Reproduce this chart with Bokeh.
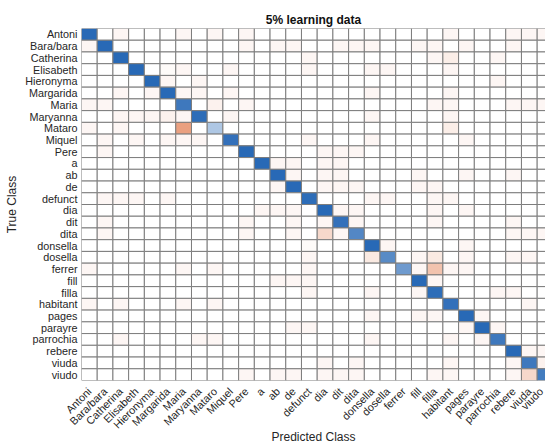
import math
import numpy as np
from bokeh.plotting import figure
from bokeh.models import Range1d, FixedTicker, ColumnDataSource
from bokeh.embed import file_html
from bokeh.resources import INLINE

classes = ["Antoni", "Bara/bara", "Catherina", "Elisabeth", "Hieronyma", "Margarida",
           "Maria", "Maryanna", "Mataro", "Miquel", "Pere", "a", "ab", "de", "defunct",
           "dia", "dit", "dita", "donsella", "dosella", "ferrer", "fill", "filla",
           "habitant", "pages", "parayre", "parrochia", "rebere", "viuda", "viudo"]

diag_counts = [40, 40, 40, 40, 40, 40, 36, 39, 15, 38, 40, 40, 40, 40, 39,
               40, 38, 32, 40, 31, 27, 40, 39, 38, 40, 40, 36, 40, 36, 35]

off_row = [0, 0, 0, 0, 0, 0, 0, 0,
           1, 1, 1, 1, 1, 1, 1, 1, 1, 1, 1,
           2, 2, 2, 2,
           3, 3, 3, 3, 3, 3, 3,
           4, 4, 4,
           5, 5, 5, 5, 5, 5, 5,
           6, 6, 6, 6, 6, 6, 6, 6, 6,
           7, 7, 7, 7, 7, 7, 7, 7,
           8, 8, 8, 8,
           9, 9, 9, 9, 9, 9, 9, 9,
           10, 10, 10, 10,
           11, 11, 11, 11,
           12, 12, 12, 12, 12, 12,
           13, 13, 13, 13, 13, 13,
           14, 14, 14, 14, 14, 14, 14, 14,
           15, 15, 15, 15, 15, 15, 15,
           16, 16, 16, 16, 16, 16, 16,
           17, 17, 17, 17, 17, 17, 17, 17,
           18, 18, 18,
           19, 19, 19, 19, 19, 19, 19,
           20, 20, 20, 20, 20, 20, 20, 20,
           21, 21, 21, 21,
           22, 22, 22, 22, 22,
           23, 23, 23, 23, 23,
           24, 24, 24, 24,
           25, 25, 25, 25,
           26, 26, 26, 26, 26, 26,
           27, 27,
           28, 28, 28, 28, 28,
           29, 29, 29, 29, 29, 29, 29, 29, 29, 29]
off_col = [2, 6, 8, 10, 23, 27, 28, 29,
           0, 10, 12, 13, 16, 17, 18, 21, 22, 24, 27,
           14, 22, 23, 26,
           5, 6, 9, 14, 18, 19, 23,
           5, 7, 26,
           2, 4, 6, 7, 9, 18, 23,
           0, 1, 8, 10, 22, 23, 27, 28, 29,
           2, 3, 4, 5, 6, 9, 18, 23,
           0, 2, 6, 23,
           1, 3, 5, 6, 7, 14, 18, 24,
           1, 15, 16, 17,
           12, 13, 15, 16,
           13, 15, 16, 21, 24, 27,
           12, 15, 16, 17, 21, 22,
           1, 2, 3, 5, 18, 19, 22, 23,
           11, 12, 13, 16, 17, 22, 24,
           1, 10, 13, 15, 17, 22, 27,
           1, 10, 13, 15, 16, 27, 28, 29,
           14, 19, 24,
           14, 18, 21, 22, 24, 27, 28,
           0, 6, 8, 14, 21, 22, 23, 24,
           12, 13, 14, 22,
           14, 18, 21, 26, 27,
           0, 2, 6, 8, 28,
           18, 21, 22, 25,
           13, 14, 24, 26,
           2, 7, 8, 18, 23, 25,
           28, 29,
           15, 17, 23, 27, 29,
           10, 12, 13, 15, 16, 17, 22, 23, 27, 28]
off_val = [2, 2, 2, 2, 2, 2, 2, 2,
           2, 2, 2, 2, 2, 2, 2, 2, 2, 2, 2,
           2, 2, 4, 2,
           1, 2, 2, 2, 2, 2, 2,
           2, 2, 2,
           2, 2, 2, 2, 2, 2, 2,
           2, 2, 3, 2, 2, 2, 2, 2, 2,
           2, 2, 2, 3, 2, 2, 2, 2,
           2, 2, 22, 4,
           2, 2, 2, 2, 2, 2, 2, 2,
           2, 2, 2, 2,
           2, 2, 2, 2,
           2, 2, 2, 2, 2, 2,
           2, 2, 2, 2, 2, 2,
           2, 2, 2, 2, 2, 2, 2, 2,
           2, 2, 2, 2, 2, 2, 2,
           2, 2, 2, 2, 2, 2, 2,
           2, 2, 2, 9, 2, 2, 2, 2,
           1, 2, 2,
           2, 5, 2, 5, 2, 2, 2,
           2, 2, 2, 2, 2, 14, 2, 2,
           2, 2, 2, 2,
           2, 2, 2, 2, 2,
           2, 2, 2, 2, 2,
           2, 2, 2, 2,
           2, 2, 2, 2,
           2, 2, 2, 2, 2, 2,
           2, 2,
           2, 2, 2, 2, 3,
           2, 2, 2, 2, 2, 2, 2, 2, 2, 9]

count_max = 40
n = len(classes)

BLUE = (40, 105, 182)
ORANGE = (217, 83, 25)


def blend(base, a):
    a = max(0.0, min(1.0, a))
    r, g, b = (round(255 - a * (255 - c)) for c in base)
    return "#%02x%02x%02x" % (r, g, b)


M = np.zeros((n, n))
for i in range(n):
    M[i, i] = diag_counts[i]
for r, c, v in zip(off_row, off_col, off_val):
    M[r, c] = v

xs, ys, colors = [], [], []
for r in range(n):
    for c in range(n):
        xs.append(c)
        ys.append(r)
        base = BLUE if r == c else ORANGE
        colors.append(blend(base, M[r, c] / count_max))

src = ColumnDataSource(dict(x=xs, y=ys, color=colors))

FONT = "Liberation Sans"
TXT = "#262626"

p = figure(width=545, height=446,
           x_range=Range1d(-0.5, 29.03), y_range=Range1d(29.5, -0.5),
           output_backend="svg", toolbar_location=None,
           min_border_left=81, min_border_right=0, min_border_top=28,
           min_border_bottom=0)

p.rect(x="x", y="y", width=1, height=1, source=src, fill_color="color",
       line_color="#7d7d7d", line_width=1)

p.title.text = "5% learning data"
p.title.align = "center"
p.title.text_font = FONT
p.title.text_font_size = "12px"
p.title.text_font_style = "bold"
p.title.text_color = "#111111"
p.title.standoff = 3
p.title.offset = 4

p.xgrid.visible = False
p.ygrid.visible = False
p.outline_line_color = None
p.background_fill_color = "white"
p.border_fill_color = "white"

overrides = {i: name for i, name in enumerate(classes)}

for ax in (p.xaxis[0], p.yaxis[0]):
    ax.ticker = FixedTicker(ticks=list(range(n)))
    ax.major_label_overrides = overrides
    ax.major_tick_in = 0
    ax.major_tick_out = 0
    ax.minor_tick_in = 0
    ax.minor_tick_out = 0
    ax.major_tick_line_color = None
    ax.minor_tick_line_color = None
    ax.axis_line_color = None
    ax.major_label_text_font = FONT
    ax.major_label_text_font_size = "10.8px"
    ax.major_label_text_color = TXT
    ax.axis_label_text_font = FONT
    ax.axis_label_text_font_size = "12px"
    ax.axis_label_text_font_style = "normal"
    ax.axis_label_text_color = TXT

p.xaxis.axis_label = "Predicted Class"
p.xaxis.major_label_orientation = math.pi / 4
p.xaxis.major_label_standoff = 9
p.xaxis.axis_label_standoff = -8

p.yaxis.axis_label = "True Class"
p.yaxis.major_label_standoff = 4
p.yaxis.axis_label_standoff = 3

open("out.html", "w").write(file_html(p, INLINE))
